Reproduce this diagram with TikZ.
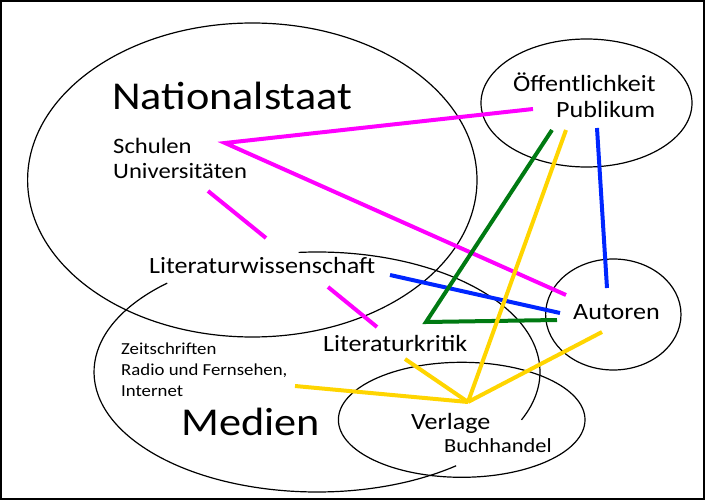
\documentclass[tikz,border=0pt]{standalone}
\usepackage{fontspec}
\setmainfont{Carlito}[FakeStretch=1.12]
\definecolor{linkmagenta}{HTML}{FF00FF}
\definecolor{linkblue}{HTML}{0026FF}
\definecolor{linkgreen}{HTML}{007A12}
\definecolor{linkgold}{HTML}{FFD500}

\begin{document}
\begin{tikzpicture}[x=1pt, y=-1pt,
                ring/.style={draw=black, line width=1.2pt},
                link/.style={line width=4pt, line cap=butt, line join=miter},
                bigtext/.style={anchor=base west, inner sep=0pt, font=\fontsize{39.5}{40}\selectfont},
                midtext/.style={anchor=base west, inner sep=0pt, font=\fontsize{23.3}{24}\selectfont},
                lowtext/.style={anchor=base west, inner sep=0pt, font=\fontsize{22}{24}\selectfont},
                buchtext/.style={anchor=base west, inner sep=0pt, font=\fontsize{20}{22}\selectfont},
                smalltext/.style={anchor=base west, inner sep=0pt, font=\fontsize{16.8}{18}\selectfont},
                ]
                \useasboundingbox (0,0) rectangle (705,500);
                \draw[line width=2pt] (1,1) rectangle (704,499);

                %Circles
                \draw[ring] (252.3,180) ellipse [x radius=224.7, y radius=157];
                \draw[ring] (586.5,103) ellipse [x radius=105.5, y radius=64];
                \draw[ring] (613.3,314.5) ellipse [x radius=67.7, y radius=55.5];
                \draw[ring] (461.7,419.8) ellipse [x radius=123.3, y radius=57.5];
                \draw[ring] (317,372) ++(265.3:223 and 120) arc [start angle=265.3, end angle=383.5, x radius=223, y radius=120];
                \draw[ring] (317,372) ++(51.4:223 and 120) arc [start angle=51.4, end angle=227.8, x radius=223, y radius=120];

                %Nodes
                \node[bigtext]   (nationalstaat) at (112,110) {Nationalstaat};
                \node[lowtext]   (schulen)       at (113,154) {Schulen};
                \node[lowtext]   (unis)          at (113,179) {Universitäten};
                \node[midtext]   (oeffentlich)   at (513,92)  {Öffentlichkeit};
                \node[midtext]   (publikum)      at (556,118) {Publikum};
                \node[midtext]   (litwiss)       at (149,273) {Literaturwissenschaft};
                \node[midtext]   (autoren)       at (573,319) {Autoren};
                \node[midtext]   (litkritik)     at (323,351) {Literaturkritik};
                \node[smalltext] (zeitschriften) at (121,354) {Zeitschriften};
                \node[smalltext] (radio)         at (121,375) {Radio und Fernsehen,};
                \node[smalltext] (internet)      at (121,396) {Internet};
                \node[bigtext]   (medien)        at (181,435) {Medien};
                \node[midtext]   (verlage)       at (411,429) {Verlage};
                \node[buchtext]  (buchhandel)    at (444,452) {Buchhandel};

                %Ends
                \coordinate (schulP) at (225,143);
                \coordinate (publM)  at (533,109);
                \coordinate (autM)   at (566,295);
                \coordinate (unisM)  at (208,191);
                \coordinate (wissM)  at (266,238);
                \coordinate (wissK)  at (328,287);
                \coordinate (kritW)  at (377,327);
                \coordinate (publB)  at (597,128);
                \coordinate (autB)   at (607,288);
                \coordinate (wissB)  at (390,275);
                \coordinate (autW)   at (560,313);
                \coordinate (publG)  at (552,130);
                \coordinate (kritG)  at (426,322);
                \coordinate (autG)   at (557,320);
                \coordinate (publY)  at (566,130);
                \coordinate (verlY)  at (468,402);
                \coordinate (medY)   at (295,386);
                \coordinate (kritY)  at (405,359);
                \coordinate (autY)   at (602,332);

                %Lines
                \draw[link, linkmagenta] (publM) -- (schulP) -- (autM);
                \draw[link, linkmagenta] (unisM) -- (wissM);
                \draw[link, linkmagenta] (wissK) -- (kritW);
                \draw[link, linkblue] (publB) -- (autB);
                \draw[link, linkblue] (wissB) -- (autW);
                \draw[link, linkgreen] (publG) -- (kritG) -- (autG);
                \draw[link, linkgold] (publY) -- (verlY);
                \draw[link, linkgold] (medY) -- (verlY);
                \draw[link, linkgold] (kritY) -- (verlY);
                \draw[link, linkgold] (verlY) -- (autY);
\end{tikzpicture}
\end{document}
